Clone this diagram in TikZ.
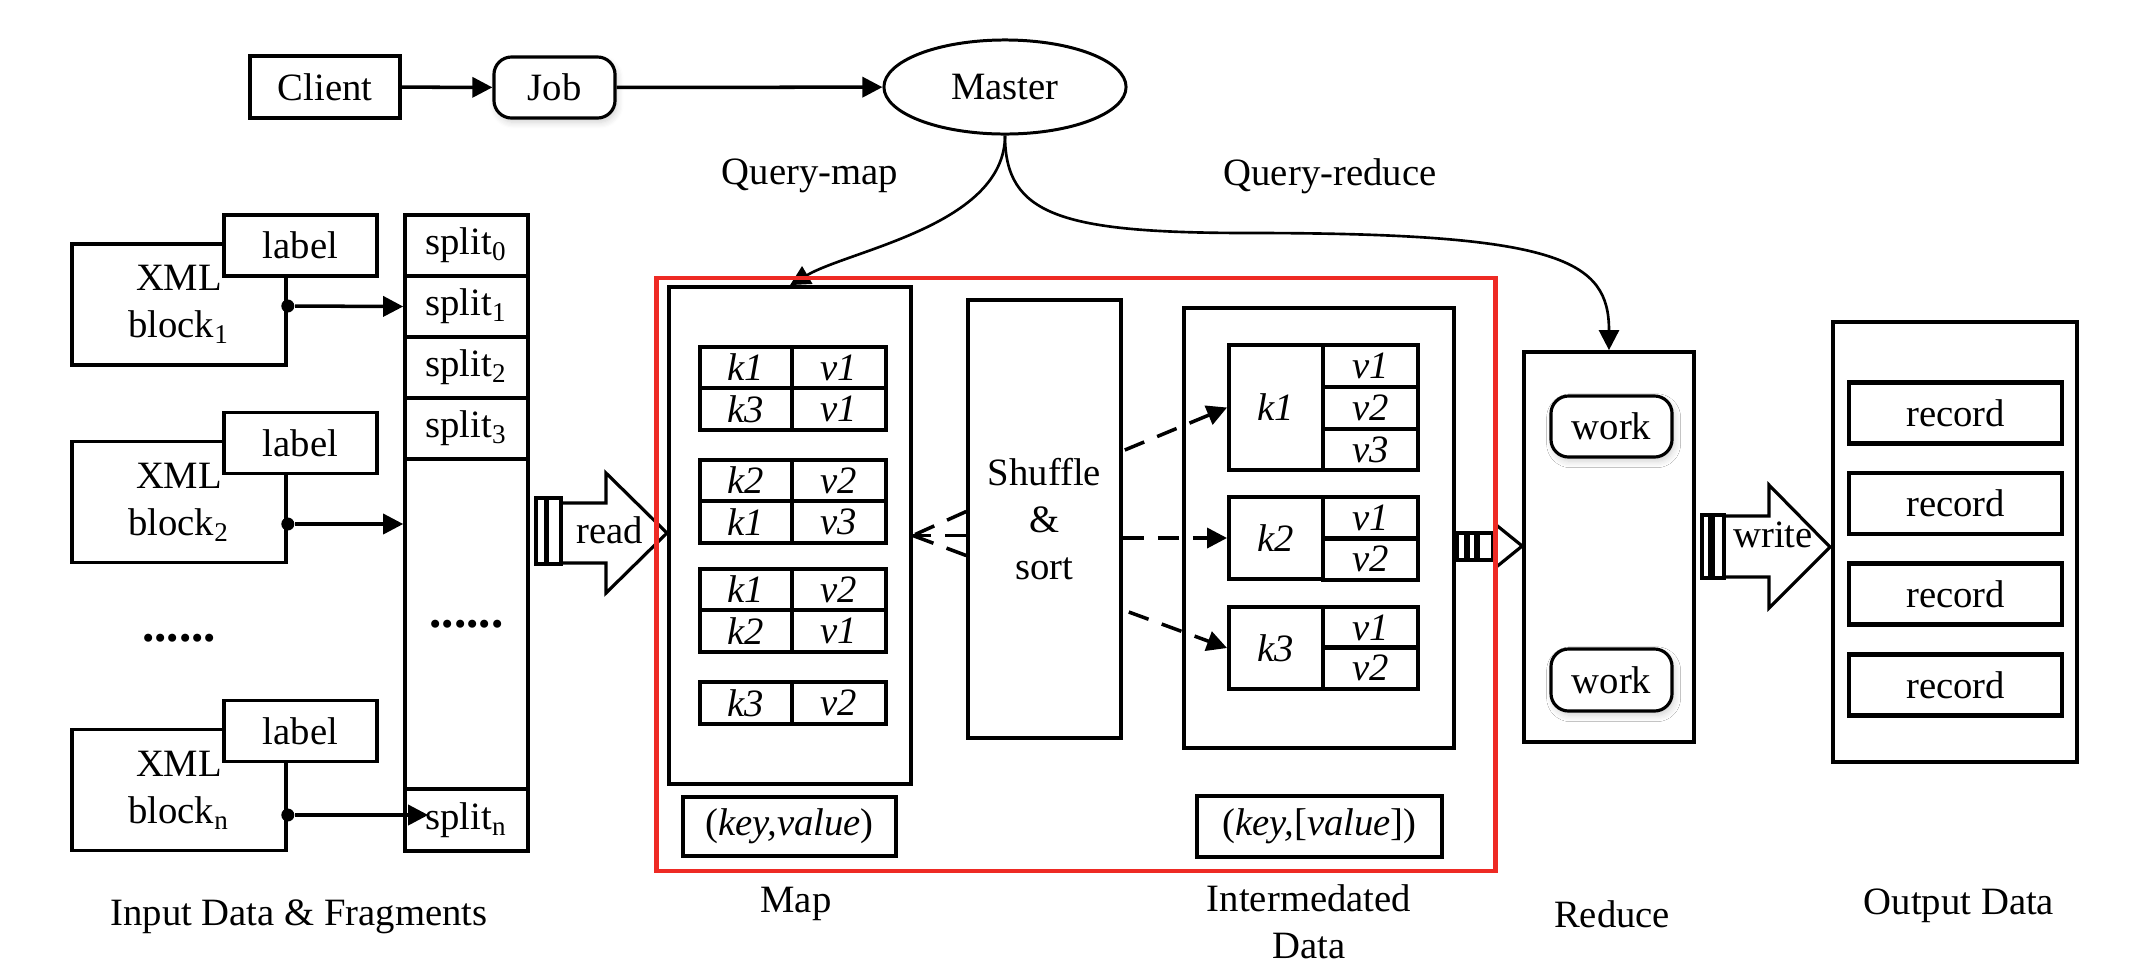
\documentclass[tikz,border=0pt]{standalone}
\usepackage{fontspec}
\setmainfont{Liberation Serif}
\usepackage{tikz}
\usetikzlibrary{shapes,arrows.meta,positioning,calc,fit,backgrounds,shadows.blur}

\definecolor{framered}{RGB}{238,42,36}

\tikzset{
  box/.style={draw, line width=1pt, inner sep=0pt, fill=white},
  cell/.style={draw, line width=1.1pt, inner sep=0pt, minimum height=0.415cm},
  rbox/.style={draw, line width=0.9pt, rounded corners=5pt, inner sep=0pt, fill=white,
    blur shadow={shadow xshift=0.6pt, shadow yshift=-1.2pt, shadow blur steps=6, shadow opacity=18}},
  flow/.style={line width=1pt, -{Triangle[length=5.7pt,width=5.7pt]}},
  qlink/.style={line width=0.75pt, -{Triangle[length=5.7pt,width=5.7pt]}},
  dashflow/.style={line width=1pt, dash pattern=on 0.21cm off 0.14cm},
  hub/.style={circle, fill=black, inner sep=0pt, minimum size=0.13cm},
  caption/.style={align=center, inner sep=0pt},
  gap/.style={font=\fontsize{14pt}{16pt}\selectfont\bfseries}
}

\begin{document}
\begin{tikzpicture}[x=0.01cm, y=-0.01cm, font=\fontsize{11pt}{13.4pt}\selectfont]
\useasboundingbox (0,0) rectangle (2152,972);

% job submission
\node[box, minimum width=1.50cm, minimum height=0.62cm] (client) at (325,87) {Client};
\node[rbox, minimum width=1.21cm, minimum height=0.61cm] (job) at (554.5,87.5) {Job};
\node[draw, ellipse, line width=0.85pt, minimum width=2.42cm, minimum height=0.94cm, inner sep=0pt] (master) at (1005,87) {Master};
\draw[flow] (client) -- (job);
\draw[flow] (job) -- (master);

\node[caption] (qmap) at (810,176) {Query-map};
\node[caption] (qreduce) at (1330,176) {Query-reduce};

% input blocks
\foreach \n/\y/\d in {1/304.5/1.5, 2/502/22, n/790/25} {
  \node[box, minimum width=2.14cm, minimum height=1.21cm, align=center] (block\n) at (179,\y) {XML\\block\textsubscript{\n}};
  \node[box, minimum width=1.53cm, minimum height=0.61cm] (label\n) at ($(block\n.center)+(121.5,-59)$) {label};
  \node[hub] (hub\n) at ($(block\n.east)+(0,\d)$) {};
}
\node[gap] (gapdots) at (179,638) {......};

% splits
\foreach \i/\y in {0/245.5, 1/306.5, 2/367.5, 3/428.5}
  \node[box, minimum width=1.23cm, minimum height=0.61cm] (split\i) at (466.5,\y) {split\textsubscript{\i}};
\node[box, gap, minimum width=1.23cm, minimum height=3.30cm] (splitbig) at (466.5,624) {......};
\node[box, minimum width=1.23cm, minimum height=0.62cm] (splitn) at (466.5,820) {split\textsubscript{n}};

\draw[flow] (hub1) -- (split1.west);
\draw[flow] (hub2) -- (hub2 -| splitbig.west);
\draw[flow] (hubn) -- ($(hubn -| splitn.west)+(25,0)$);

% read
\draw[line width=1pt] (536,498) rectangle (546,564) (547.5,498) rectangle (561,564);
\draw[line width=0.9pt] (562,503) -- (606,503) -- (606,473) -- (667,533) -- (606,593) -- (606,563) -- (562,563);
\node (read) at (610,530) {read};

% map
\node[box, minimum width=2.42cm, minimum height=4.97cm] (map) at (790,535.5) {};
\foreach \y/\k/\v [count=\i] in {367.5/k1/v1, 409/k3/v1, 480.5/k2/v2, 522/k1/v3, 589.5/k1/v2, 631/k2/v1, 703/k3/v2} {
  \node[cell, minimum width=0.92cm] (mk\i) at (746,\y) {\textit{\k}};
  \node[cell, minimum width=0.94cm] (mv\i) at (839,\y) {\textit{\v}};
}
\node[box, minimum width=2.13cm, minimum height=0.59cm] (kv) at (789.5,826.5) {(\textit{key,value})};

% shuffle
\node[box, minimum width=1.53cm, minimum height=4.38cm, align=center] (shuffle) at (1044.5,519) {Shuffle\\\&\\sort};
\foreach \dy in {-24,0,20}
  \draw[dashflow] ($(shuffle.west |- map.east)+(0,\dy)$) -- (map.east);

% intermediate data
\node[box, minimum width=2.70cm, minimum height=4.40cm] (inter) at (1319,528) {};
\node[cell, minimum width=0.94cm, minimum height=1.25cm] (ik1) at (1276,407.5) {\textit{k1}};
\node[cell, minimum width=0.94cm, minimum height=0.82cm] (ik2) at (1276,538) {\textit{k2}};
\node[cell, minimum width=0.94cm, minimum height=0.82cm] (ik3) at (1276,648) {\textit{k3}};
\foreach \y/\v [count=\i] in {366/v1, 408/v2, 449.5/v3, 518/v1, 559/v2, 627.5/v1, 668/v2}
  \node[cell, minimum width=0.95cm] (iv\i) at (1370.5,\y) {\textit{\v}};
\node[box, minimum width=2.45cm, minimum height=0.61cm] (kvl) at (1319.5,826.5) {(\textit{key,}[\textit{value}])};

\draw[dashflow, -{Triangle[length=5.7pt,width=5.7pt]}] ($(shuffle.east)+(2,-69)$) -- (ik1.west);
\draw[dashflow, -{Triangle[length=5.7pt,width=5.7pt]}] (shuffle.east |- ik2.west) -- (ik2.west);
\draw[dashflow, -{Triangle[length=5.7pt,width=5.7pt]}] ($(shuffle.east)+(6,93)$) -- (ik3.west);

% reduce
\node[box, minimum width=1.70cm, minimum height=3.90cm] (reduce) at (1609,547) {};
\node[rbox, minimum width=1.21cm, minimum height=0.61cm] (work1) at (1611.5,426.5) {work};
\node[rbox, minimum width=1.21cm, minimum height=0.62cm] (work2) at (1611.5,680) {work};

\draw[line width=0.9pt] (1457,533) rectangle (1466,560) (1468,533) rectangle (1476,560) (1478,533) rectangle (1493,560);
\draw[line width=0.9pt] (1495,524) -- (reduce.west |- 0,546) -- (1495,568);

% write
\draw[line width=1pt] (1702,515) rectangle (1710,578) (1713,515) rectangle (1724,578);
\draw[line width=0.9pt] (1726,516) -- (1769,516) -- (1769,485) -- (1830,547) -- (1769,608) -- (1769,577) -- (1726,577);
\node (write) at (1773,535) {write};

% output
\node[box, minimum width=2.44cm, minimum height=4.40cm] (output) at (1955,542) {};
\foreach \y [count=\i] in {413,503.5,594,685}
  \node[box, line width=1.2pt, minimum width=2.13cm, minimum height=0.61cm] (record\i) at (1955.5,\y) {record};

% queries
\draw[qlink] (master.south) .. controls (1005,225) and (850,250) .. (map.north);
\draw[qlink] (master.south) .. controls (1005,215) and (1060,233) .. (1250,233)
  .. controls (1560,233) and (1609,260) .. (reduce.north);

% map-reduce frame
\node[draw=framered, line width=1.3pt, minimum width=8.38cm, minimum height=5.93cm, inner sep=0pt] (frame) at (1076,574.5) {};

% captions
\node[caption] (cinput) at (299,917) {Input Data \& Fragments};
\node[caption] (cmap) at (796,904) {Map};
\node[caption] (cinter) at (1309,922) {Intermedated\\Data};
\node[caption] (creduce) at (1612,914) {Reduce};
\node[caption] (coutput) at (1959,906) {Output Data};
\end{tikzpicture}
\end{document}
